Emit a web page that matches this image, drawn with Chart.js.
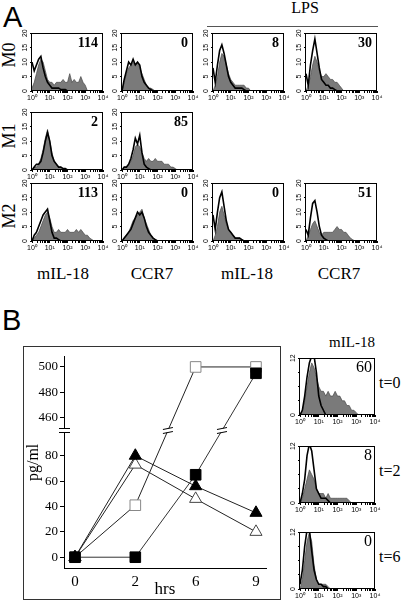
<!DOCTYPE html>
<html lang="en">
<head>
<meta charset="UTF-8">
<meta name="viewport" content="width=device-width, initial-scale=1.0">
<title>mIL-18 and CCR7 on macrophages</title>
<style>
  body { margin: 0; background: #fff; }
  #fig { position: relative; width: 401px; height: 604px; overflow: hidden; color: #000;
         font-family: "Liberation Serif", "Times New Roman", serif; }
  #fig canvas { position: absolute; }
  .t { position: absolute; white-space: nowrap; line-height: 1; }
  .letter { font-family: "Liberation Sans", Arial, sans-serif; font-size: 29px; }
  .row { font-size: 18px; width: 40px; height: 18px; text-align: center; transform: rotate(-90deg); }
  .col { font-size: 17px; width: 80px; text-align: center; }
  .num { font-size: 14px; font-weight: bold; text-align: right; }
  .bnum { font-size: 16px; text-align: right; }
  .tl { font-size: 16px; }
  #lps-line { position: absolute; left: 207px; top: 26px; width: 171px; height: 1px; background: #555; }
  #bbox { position: absolute; left: 23px; top: 346px; width: 256px; height: 252px; border: 1px solid #333; }
</style>
</head>
<body>
<div id="fig">
  <div class="t letter" style="left:3px; top:3px">A</div>
  <div class="t" style="left:275px; top:0px; width:60px; text-align:center; font-size:16px">LPS</div>
  <div id="lps-line"></div>
  <div class="t row" style="left:-11px; top:46px">M0</div>
  <div class="t row" style="left:-11px; top:127px">M1</div>
  <div class="t row" style="left:-11px; top:207px">M2</div>
  <div class="t col" style="left:23px; top:265px">mIL-18</div>
  <div class="t col" style="left:112px; top:265px">CCR7</div>
  <div class="t col" style="left:207px; top:265px">mIL-18</div>
  <div class="t col" style="left:299px; top:265px">CCR7</div>

  <div class="t letter" style="left:2px; top:306px">B</div>
  <div id="bbox"></div>
  <div class="t" style="left:312px; top:335px; width:80px; text-align:center; font-size:15px">mIL-18</div>
  <div class="t tl" style="left:379px; top:375px">t=0</div>
  <div class="t tl" style="left:379px; top:463px">t=2</div>
  <div class="t tl" style="left:379px; top:549px">t=6</div>
</div>

<script src="https://cdn.jsdelivr.net/npm/chart.js"></script>
<script>
    // histogram bins: 8 per decade, starting at 10^0
    const binsPerDecade = 8;
    const decadeLabels = ['10⁰', '10¹', '10²', '10³', '10⁴'];

    // A, row M0
    const m0Il18Fill = [1, 3, 6, 9, 11, 10, 7, 4, 3, 3, 2, 3, 3, 3, 4, 3, 3, 6, 3, 4, 3, 3, 5, 3, 2, 0];
    const m0Il18Line = [10, 7, 9, 11, 12, 8, 5, 3, 2, 1, 1, 1, 1, 0.5, 0.5, 0.5, 0];
    const m0Ccr7Fill = [0, 3, 6, 8, 9, 10, 9, 10, 8, 6, 4, 2, 1, 1, 0.5, 0];
    const m0Ccr7Line = [0, 4, 7, 10, 9, 11, 9, 10, 9, 5, 3, 2, 1, 0.5, 0];
    const m0LpsIl18Fill = [0, 2, 5, 10, 13, 12, 9, 6, 4, 3, 2, 2, 2, 2, 2, 1, 1, 0];
    const m0LpsIl18Line = [8, 3, 9, 14, 16, 13, 9, 5, 3, 2, 1, 1, 1, 1, 0.5, 0];
    const m0LpsCcr7Fill = [0, 2, 5, 9, 12, 10, 7, 5, 5, 6, 5, 4, 4, 3, 3, 2, 1, 0];
    const m0LpsCcr7Line = [6, 2, 9, 14, 18, 13, 8, 4, 3, 2, 2, 1, 1, 0.5, 0];
    // A, row M1
    const m1Il18Fill = [0, 1, 1, 2, 4, 7, 11, 14, 10, 6, 3, 2, 1, 1, 0.5, 0];
    const m1Il18Line = [0, 1, 2, 2, 3, 6, 10, 13, 10, 5, 3, 2, 1, 1, 0.5, 0.5, 0];
    const m1Ccr7Fill = [0, 1, 1, 2, 3, 5, 8, 9, 8, 6, 4, 3, 4, 3, 3, 4, 3, 3, 3, 2, 2, 2, 1, 1, 0.5, 0];
    const m1Ccr7Line = [0, 1, 1, 2, 4, 7, 11, 9, 12, 6, 2, 1, 0.5, 0];
    // A, row M2
    const m2Il18Fill = [0, 1, 2, 3, 5, 7, 9, 10, 8, 5, 3, 3, 4, 3, 3, 3, 4, 3, 3, 3, 4, 3, 4, 3, 2, 2, 1, 0.5, 0];
    const m2Il18Line = [0, 2, 3, 5, 7, 9, 10, 11, 7, 3, 1, 1, 0.5, 0];
    const m2Ccr7Fill = [0, 1, 2, 3, 5, 7, 8, 9, 10, 11, 8, 6, 4, 2, 1, 0.5, 0];
    const m2Ccr7Line = [0, 1, 2, 3, 4, 6, 8, 10, 9, 10, 8, 5, 3, 2, 1, 0.5, 0];
    const m2LpsIl18Fill = [0, 2, 5, 10, 12, 9, 6, 4, 3, 2, 1, 1, 1, 0.5, 0];
    const m2LpsIl18Line = [9, 4, 10, 15, 17, 12, 7, 4, 3, 2, 1, 1, 1, 0.5, 0];
    const m2LpsCcr7Fill = [0, 2, 4, 6, 7, 5, 3, 2, 3, 3, 3, 3, 3, 4, 5, 4, 4, 3, 3, 2, 1, 0.5, 0];
    const m2LpsCcr7Line = [4, 2, 8, 13, 14, 10, 5, 2, 1, 0.5, 0];
    const countsA = ['114', '0', '8', '30', '2', '85', '113', '0', '0', '51'];

    // B, mIL-18 over time
    const t0Fill = [0, 1, 3, 6, 9, 11, 10, 8, 6, 5, 5, 4, 5, 4, 4, 5, 4, 4, 3, 3, 2, 2, 1, 1, 0.5, 0];
    const t0Line = [0, 1, 4, 8, 11, 12.5, 12.5, 9, 4, 2, 1, 0];
    const t2Fill = [0, 1, 3, 5, 7, 6, 5, 3, 2, 2, 2, 1, 2, 1, 1, 1, 1, 1, 1, 1, 1, 0.5, 0];
    const t2Line = [0, 2, 5, 10, 12.5, 11, 7, 3, 2, 1, 1, 1, 0.5, 0];
    const t6Fill = [0, 2, 6, 10, 12, 10, 5, 2, 1, 1, 1, 1, 0.5, 0];
    const t6Line = [1, 4, 9, 12.5, 12.5, 8, 4, 2, 1, 1, 0.5, 0.5, 0];
    const countsB = ['60', '8', '0'];

    // B, pg/ml vs hrs (broken y axis)
    const hours = ['0', '2', '6', '9'];
    const openSquare = [0, 41, 500, 500];
    const filledSquare = [0, 0, 65, 495];
    const filledTriangle = [0, 80, 56, 35];
    const openTriangle = [0, 73, 46, 20];
    const yMajor = [0, 20, 40, 60, 80, 460, 480, 500];
    const yMinor = [10, 30, 50, 70, 90, 470, 490];
    const breakLow = 100, breakHigh = 450;   // 100..450 is cut out of the axis

    const fig = document.getElementById('fig');
    const sansFont = "'Liberation Sans', Arial, sans-serif";
    const serifFont = "'Liberation Serif', 'Times New Roman', serif";

    function toXY(arr) { return arr.map((v, i) => ({ x: i / binsPerDecade, y: v })); }

    function logTicks() {
        const t = [];
        for (let d = 0; d < 4; d++) for (let k = 1; k < 10; k++) t.push({ value: d + Math.log10(k) });
        t.push({ value: 4 });
        return t;
    }

    // full box round the plot area
    const boxFrame = {
        id: 'boxFrame',
        afterDatasetsDraw(chart) {
            const a = chart.chartArea, ctx = chart.ctx;
            ctx.save();
            ctx.strokeStyle = '#000';
            ctx.lineWidth = 1;
            ctx.strokeRect(Math.round(a.left) - 0.5, Math.round(a.top) + 0.5,
                Math.round(a.right - a.left), Math.round(a.bottom - a.top) - 1);
            ctx.restore();
        }
    };

    function addText(cls, text, left, top, width) {
        const d = document.createElement('div');
        d.className = 't ' + cls;
        d.textContent = text;
        d.style.left = left + 'px';
        d.style.top = top + 'px';
        d.style.width = width + 'px';
        fig.appendChild(d);
    }

    function histogram(box, fill, line, yMax, yTicks, yLabels) {
        const [left, top, w, h] = box;
        const padL = 13, padT = 5, padR = 7, padB = 12;
        const cv = document.createElement('canvas');
        cv.width = padL + w + padR;
        cv.height = padT + h + padB;
        cv.style.left = (left - padL) + 'px';
        cv.style.top = (top - padT) + 'px';
        fig.appendChild(cv);
        new Chart(cv, {
            type: 'line',
            data: {
                datasets: [
                    { data: toXY(line), borderColor: '#000', borderWidth: 1.6, pointRadius: 0, fill: false, tension: 0 },
                    { data: toXY(fill), borderColor: '#4a4a4a', borderWidth: 0.7, backgroundColor: '#7a7a7a',
                      pointRadius: 0, fill: 'origin', tension: 0 }
                ]
            },
            options: {
                responsive: false, animation: false, events: [], devicePixelRatio: 1,
                layout: { padding: { top: padT, right: padR, left: 0, bottom: 0 } },
                plugins: { legend: { display: false }, tooltip: { enabled: false } },
                scales: {
                    x: {
                        type: 'linear', min: 0, max: 4,
                        afterBuildTicks: s => { s.ticks = logTicks(); },
                        afterFit: s => { s.height = padB; },
                        border: { display: false },
                        grid: { drawOnChartArea: false, tickLength: 2, color: '#000' },
                        ticks: { autoSkip: false, minRotation: 0, maxRotation: 0, padding: 1, color: '#000',
                                 font: { family: sansFont, size: 7 },
                                 callback: v => Number.isInteger(v) ? decadeLabels[v] : '' }
                    },
                    y: {
                        min: 0, max: yMax,
                        afterBuildTicks: s => { s.ticks = yTicks.map(v => ({ value: v })); },
                        afterFit: s => { s.width = padL; },
                        border: { display: false },
                        grid: { drawOnChartArea: false, tickLength: 2, color: '#000' },
                        ticks: { minRotation: 90, maxRotation: 90, crossAlign: 'center', padding: 1, color: '#000',
                                 font: { family: sansFont, size: 7 },
                                 callback: v => yLabels.includes(v) ? String(v) : '' }
                    }
                }
            },
            plugins: [boxFrame]
        });
    }

    // panel A layout: [left, top, width, height] of each plot box
    const colLeft = [32, 122, 213, 306];
    const rowTop = [33, 112, 183];
    const panelsA = [
        [0, 0, m0Il18Fill, m0Il18Line], [0, 1, m0Ccr7Fill, m0Ccr7Line],
        [0, 2, m0LpsIl18Fill, m0LpsIl18Line], [0, 3, m0LpsCcr7Fill, m0LpsCcr7Line],
        [1, 0, m1Il18Fill, m1Il18Line], [1, 1, m1Ccr7Fill, m1Ccr7Line],
        [2, 0, m2Il18Fill, m2Il18Line], [2, 1, m2Ccr7Fill, m2Ccr7Line],
        [2, 2, m2LpsIl18Fill, m2LpsIl18Line], [2, 3, m2LpsCcr7Fill, m2LpsCcr7Line]
    ];
    const aTicks = [0, 5, 10, 15, 20];
    panelsA.forEach(([r, c, fill, line], i) => {
        const box = [colLeft[c], rowTop[r], 71, 58];
        histogram(box, fill, line, 20, aTicks, aTicks);
        addText('num', countsA[i], box[0], box[1] + 3, box[2] - 5);
    });

    // panel B histograms
    const bTop = [358, 446, 532];
    const bTicks = [0, 1, 2, 3, 4, 5, 6, 7, 8, 9, 10, 11, 12];
    [[t0Fill, t0Line], [t2Fill, t2Line], [t6Fill, t6Line]].forEach(([fill, line], i) => {
        const box = [300, bTop[i], 75, 57];
        histogram(box, fill, line, 12, bTicks, [0, 12]);
        addText('bnum', countsB[i], box[0], box[1] + 1, box[2] - 3);
    });

    // B line chart with a broken y axis
    const squeeze = v => v > breakHigh ? v - (breakHigh - breakLow) : v;
    const unsqueeze = v => v > breakLow ? v + (breakHigh - breakLow) : v;
    const pts = arr => arr.map((v, i) => ({ x: i, y: squeeze(v) }));

    const axisBreak = {
        id: 'axisBreak',
        afterDatasetsDraw(chart) {
            const ctx = chart.ctx, ys = chart.scales.y;
            const yb = Math.round(ys.getPixelForValue(breakLow)) + 0.5;
            const ax = Math.round(ys.right);
            ctx.save();
            ctx.strokeStyle = '#000';
            ctx.lineWidth = 1;
            ctx.fillStyle = '#fff';
            ctx.fillRect(ax - 2, yb - 2, 4, 4);
            [yb - 2, yb + 2].forEach(y => {
                ctx.beginPath(); ctx.moveTo(ax - 5, y); ctx.lineTo(ax + 6, y); ctx.stroke();
            });
            chart.data.datasets.forEach((ds, di) => {
                const pts = chart.getDatasetMeta(di).data;
                for (let i = 1; i < pts.length; i++) {
                    const p0 = pts[i - 1], p1 = pts[i];
                    if ((p0.y - yb) * (p1.y - yb) >= 0) continue;
                    const x = p0.x + (yb - p0.y) / (p1.y - p0.y) * (p1.x - p0.x);
                    ctx.fillStyle = '#fff';
                    ctx.fillRect(x - 3, yb - 2, 6, 4);
                    [-2, 2].forEach(o => {
                        ctx.beginPath(); ctx.moveTo(x - 5, yb + o + 1); ctx.lineTo(x + 5, yb + o - 1); ctx.stroke();
                    });
                }
            });
            ctx.restore();
        }
    };

    const lineCv = document.createElement('canvas');
    lineCv.width = 255;
    lineCv.height = 251;
    lineCv.style.left = '24px';
    lineCv.style.top = '347px';
    fig.appendChild(lineCv);

    const series = (data, style, radius, fillCol, edgeCol, lineCol) => ({
        data: pts(data), borderColor: lineCol, borderWidth: 1, tension: 0, clip: false,
        pointStyle: style, pointRadius: radius, pointBackgroundColor: fillCol, pointBorderColor: edgeCol, pointBorderWidth: 1
    });

    new Chart(lineCv, {
        type: 'line',
        data: {
            datasets: [
                series(filledSquare, 'rect', 7.5, '#000', '#000', '#333'),
                series(filledTriangle, 'triangle', 7, '#000', '#000', '#222'),
                series(openTriangle, 'triangle', 7, '#fff', '#444', '#222'),
                series(openSquare, 'rect', 7.5, '#fff', '#888', '#222')
            ]
        },
        options: {
            responsive: false, animation: false, events: [], devicePixelRatio: 1,
            layout: { padding: { top: 6, right: 13, left: 0, bottom: 0 } },
            plugins: { legend: { display: false }, tooltip: { enabled: false } },
            scales: {
                x: {
                    type: 'linear', min: -0.182, max: 3.166,
                    afterBuildTicks: s => { s.ticks = hours.map((_, i) => ({ value: i })); },
                    afterFit: s => { s.height = 30; },
                    border: { display: true, color: '#000', width: 1 },
                    grid: { display: false },
                    ticks: { autoSkip: false, maxRotation: 0, padding: -3, color: '#000',
                             font: { family: serifFont, size: 15 }, callback: v => hours[v] },
                    title: { display: true, text: 'hrs', color: '#000', padding: { top: -2, bottom: -2 },
                             font: { family: serifFont, size: 17 } }
                },
                y: {
                    min: -8.5, max: 158,
                    afterBuildTicks: s => {
                        s.ticks = yMajor.concat(yMinor).map(squeeze).sort((a, b) => a - b).map(v => ({ value: v }));
                    },
                    afterFit: s => { s.width = 40; },
                    border: { display: true, color: '#000', width: 1 },
                    grid: { drawOnChartArea: false, tickLength: 4, color: '#000' },
                    ticks: { padding: 2, color: '#000', font: { family: serifFont, size: 13 },
                             callback: v => yMajor.includes(unsqueeze(v)) ? String(unsqueeze(v)) : '' },
                    title: { display: true, text: 'pg/ml', color: '#000', padding: 0,
                             font: { family: serifFont, size: 16 } }
                }
            }
        },
        plugins: [axisBreak]
    });
</script>
</body>
</html>
